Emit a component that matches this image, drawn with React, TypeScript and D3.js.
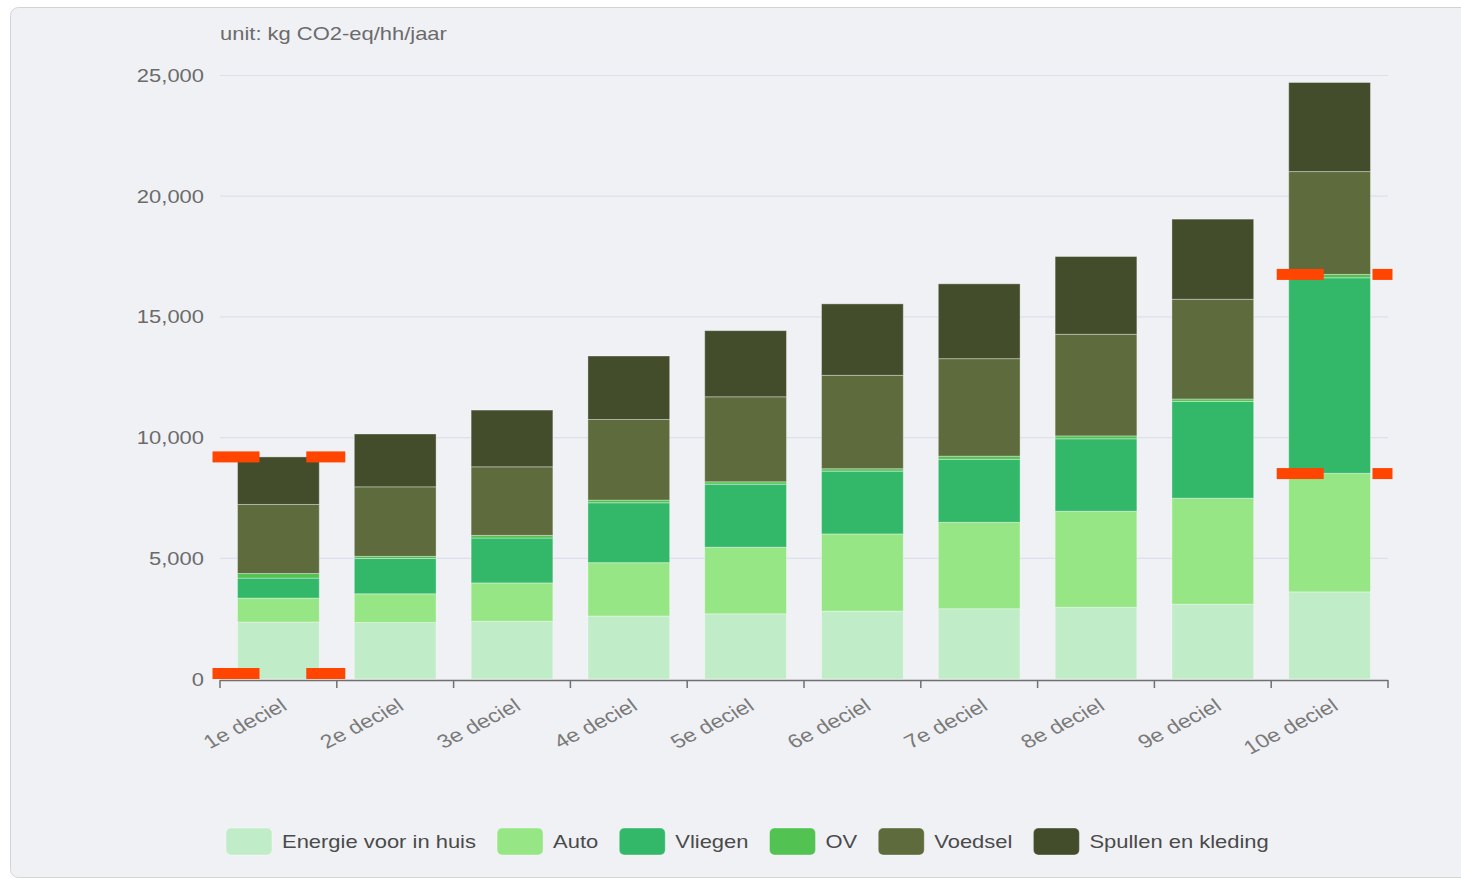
import React from 'react';
import * as d3 from 'd3';

// ---- data ----
const categories = ['1e deciel', '2e deciel', '3e deciel', '4e deciel', '5e deciel', '6e deciel', '7e deciel', '8e deciel', '9e deciel', '10e deciel'];
const seriesNames = ['Energie voor in huis', 'Auto', 'Vliegen', 'OV', 'Voedsel', 'Spullen en kleding'];
const energie = [2360, 2340, 2390, 2610, 2700, 2810, 2910, 2970, 3100, 3610];
const auto = [990, 1190, 1590, 2210, 2760, 3200, 3580, 3980, 4390, 4910];
const vliegen = [830, 1460, 1860, 2480, 2610, 2600, 2610, 3000, 4010, 8100];
const ov = [190, 90, 110, 110, 100, 100, 130, 120, 100, 140];
const voedsel = [2860, 2880, 2840, 3340, 3520, 3870, 4040, 4210, 4130, 4260];
const spullen = [1970, 2190, 2350, 2630, 2740, 2960, 3100, 3220, 3320, 3690];
const seriesValues = [energie, auto, vliegen, ov, voedsel, spullen];
const seriesColors = ['#C1ECC8', '#96E686', '#33B86A', '#52C253', '#5E6C3D', '#434D2C'];
const yTicks = [0, 5000, 10000, 15000, 20000, 25000];
const unitLabel = 'unit: kg CO2-eq/hh/jaar';

// highlight markers (category index, value at which they sit)
const markerBars = [0, 0, 9, 9];
const markerValues = [9200, 0, 16760, 8510];

// ---- layout ----
const W = 1461;
const H = 879;
const SX = 1.22; // horizontal stretch of the original rendering
const FONT = '"Liberation Sans", Arial, Helvetica, sans-serif';

function measure(t: string, size: number) {
  const ctx = document.createElement('canvas').getContext('2d');
  if (!ctx) return t.length * size * 0.5;
  ctx.font = `${size}px "Liberation Sans", Arial, sans-serif`;
  return ctx.measureText(t).width;
}

export default function App() {
  const x = d3.scaleBand<string>().domain(categories).range([220, 1388]).paddingInner(0.3).paddingOuter(0.15);
  const y = d3.scaleLinear().domain([0, 25000]).range([679, 75.5]);
  const rows = categories.map((c, i) => {
    const r: any = { cat: c };
    seriesNames.forEach((s, k) => (r[s] = seriesValues[k][i]));
    return r;
  });
  const stacked = d3.stack<any>().keys(seriesNames)(rows);
  const bw = x.bandwidth();
  const step = x.step();
  const x0 = 220;
  const boundaries = d3.range(categories.length + 1).map((i) => x0 + i * step);

  // legend layout
  const legendFont = 18;
  let lx = 226;
  const legendItems = seriesNames.map((s, i) => {
    const item = { name: s, color: seriesColors[i], x: lx };
    lx += 56 + measure(s, legendFont) * SX + 21;
    return item;
  });

  // markers
  const markers: { x: number; y: number; w: number }[] = [];
  markerBars.forEach((b, i) => {
    const bx = x(categories[b]) as number;
    const yc = y(markerValues[i]);
    const top = Math.min(yc - 5.5, y(0) - 11);
    if (b === 0) {
      markers.push({ x: bx - 25, y: top, w: 47 });
      markers.push({ x: bx + bw - 13, y: top, w: 39 });
    } else {
      markers.push({ x: bx - 12, y: top, w: 47 });
      markers.push({ x: bx + bw + 2, y: top, w: 20 });
    }
  });

  return (
    <svg width={W} height={H} style={{ position: 'absolute', left: 0, top: 0, background: '#ffffff' }} fontFamily={FONT}>
      <rect x={10.5} y={7.5} width={1460} height={870} rx={8} fill="#F0F1F5" stroke="#D4D4D6" />
      {/* unit label */}
      <text transform={`translate(220,40) scale(${SX},1)`} fontSize={18} fill="#6b6b6b">{unitLabel}</text>
      {/* gridlines */}
      {yTicks.map((t) => (
        <g key={t}>
          {t > 0 && <line x1={220} x2={1388} y1={y(t)} y2={y(t)} stroke="#DCE0EC" strokeWidth={1.2} />}
          <text transform={`translate(204,${y(t) + 6.5}) scale(${SX},1)`} fontSize={18} fill="#6b6b6b" textAnchor="end">
            {d3.format(',')(t)}
          </text>
        </g>
      ))}
      {/* bars */}
      {stacked.map((layer, k) => (
        <g key={layer.key} fill={seriesColors[k]}>
          {layer.map((d: any, i: number) => (
            <rect
              key={i}
              x={x(categories[i])}
              y={y(d[1])}
              width={bw}
              height={Math.max(0, y(d[0]) - y(d[1]))}
              stroke="rgba(255,255,255,0.35)"
              strokeWidth={1}
            />
          ))}
        </g>
      ))}
      {/* x axis */}
      <line x1={220} x2={1388} y1={680.5} y2={680.5} stroke="#707070" strokeWidth={1.5} />
      {boundaries.map((bx, i) => (
        <line key={i} x1={bx} x2={bx} y1={680} y2={688} stroke="#707070" strokeWidth={1.5} />
      ))}
      {categories.map((c) => {
        const cx = (x(c) as number) + bw / 2;
        return (
          <text key={c} transform={`translate(${cx + 10},${709}) scale(${SX},1) rotate(-32)`} fontSize={19} fill="#7a7a7a" textAnchor="end">
            {c}
          </text>
        );
      })}
      {/* markers */}
      {markers.map((m, i) => (
        <rect key={i} x={m.x} y={m.y} width={m.w} height={11} fill="#FF4500" />
      ))}
      {/* legend */}
      {legendItems.map((it) => (
        <g key={it.name}>
          <rect x={it.x} y={828} width={46} height={27} rx={5} fill={it.color} stroke="rgba(255,255,255,0.35)" />
          <text transform={`translate(${it.x + 56},${848}) scale(${SX},1)`} fontSize={legendFont} fill="#4a4a4a">
            {it.name}
          </text>
        </g>
      ))}
    </svg>
  );
}
